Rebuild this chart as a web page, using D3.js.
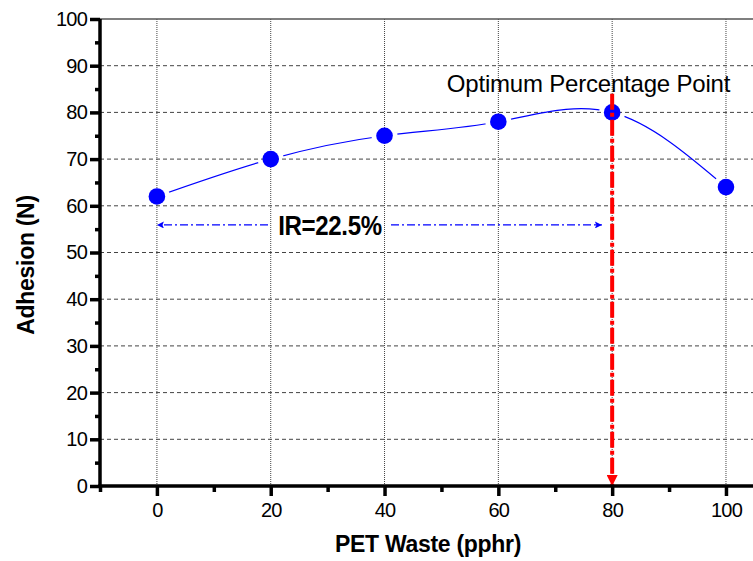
<!DOCTYPE html>
<html>
<head>
<meta charset="utf-8">
<script src="https://cdn.jsdelivr.net/npm/d3@7"></script>
<style>
  body { margin: 0; background: #fff; }
  svg { display: block; font-family: "Liberation Sans", Arial, sans-serif; }
</style>
</head>
<body>
<svg id="chart"></svg>
<script>
// data
const petWaste = [0, 20, 40, 60, 80, 100];
const adhesion = [62, 70, 75, 78, 80, 64];
const xTicks = [0, 20, 40, 60, 80, 100];
const xMinorTicks = [-10, 10, 30, 50, 70, 90];
const yTicks = [0, 10, 20, 30, 40, 50, 60, 70, 80, 90, 100];
const yMinorTicks = [5, 15, 25, 35, 45, 55, 65, 75, 85, 95];
const irLevel = 55.9;
const irRange = [0, 78.2];
const irLabel = "IR=22.5%";
const optimumX = 80;
const optimumTop = 84;
const optimumLabel = "Optimum Percentage Point";

const W = 753, H = 561;
const margin = { top: 19, right: 0, bottom: 75, left: 100 };

const svg = d3.select("#chart").attr("width", W).attr("height", H);

const x = d3.scaleLinear().domain([-10, 104.75]).range([margin.left, W - margin.right]);
const y = d3.scaleLinear().domain([0, 100]).range([H - margin.bottom, margin.top]);

const defs = svg.append("defs");

// arrow heads
defs.append("marker")
  .attr("id", "blueHead")
  .attr("viewBox", "0 0 10 10")
  .attr("refX", 10).attr("refY", 5)
  .attr("markerWidth", 11).attr("markerHeight", 7)
  .attr("markerUnits", "userSpaceOnUse")
  .attr("orient", "auto")
  .append("path").attr("d", "M0,0 L10,5 L0,10 L2,5 Z").attr("fill", "#0000ff");
defs.append("marker")
  .attr("id", "redHead")
  .attr("viewBox", "0 0 10 10")
  .attr("refX", 10).attr("refY", 5)
  .attr("markerWidth", 22).attr("markerHeight", 11)
  .attr("markerUnits", "userSpaceOnUse")
  .attr("orient", "auto")
  .append("path").attr("d", "M0,0 L10,5 L0,10 Z").attr("fill", "#ff0000");

// mask that opens a small gap in the curve around each point
const mask = defs.append("mask").attr("id", "gapMask").attr("maskUnits", "userSpaceOnUse")
  .attr("x", 0).attr("y", 0).attr("width", W).attr("height", H);
mask.append("rect").attr("width", W).attr("height", H).attr("fill", "#fff");
mask.selectAll("circle")
  .data(adhesion)
  .join("circle")
  .attr("cx", (d, i) => x(petWaste[i]))
  .attr("cy", d => y(d))
  .attr("r", 13)
  .attr("fill", "#000");

// grid
svg.append("g")
  .selectAll("line")
  .data(yTicks.filter(d => d > 0 && d < 100))
  .join("line")
  .attr("x1", margin.left).attr("x2", W)
  .attr("y1", d => y(d)).attr("y2", d => y(d))
  .attr("stroke", "#444")
  .attr("stroke-width", 1)
  .attr("stroke-dasharray", "4,3");

svg.append("g")
  .selectAll("line")
  .data(xTicks)
  .join("line")
  .attr("x1", d => x(d)).attr("x2", d => x(d))
  .attr("y1", y(100)).attr("y2", y(0))
  .attr("stroke", "#444")
  .attr("stroke-width", 1)
  .attr("stroke-dasharray", "1,1");

// top frame line
svg.append("line")
  .attr("x1", margin.left).attr("x2", W)
  .attr("y1", y(100)).attr("y2", y(100))
  .attr("stroke", "#555")
  .attr("stroke-width", 1.5);

// fitted curve
const line = d3.line()
  .x((d, i) => x(petWaste[i]))
  .y(d => y(d))
  .curve(d3.curveNatural);

svg.append("path")
  .datum(adhesion)
  .attr("d", line)
  .attr("fill", "none")
  .attr("stroke", "#0000ff")
  .attr("stroke-width", 1.2)
  .attr("mask", "url(#gapMask)");

svg.append("g")
  .selectAll("circle")
  .data(adhesion)
  .join("circle")
  .attr("cx", (d, i) => x(petWaste[i]))
  .attr("cy", d => y(d))
  .attr("r", 8.3)
  .attr("fill", "#0000ff");

// IR arrow
svg.append("text")
  .attr("transform", `translate(330, ${y(irLevel) + 10}) scale(0.86, 1)`)
  .attr("text-anchor", "middle")
  .style("font-size", "28px")
  .style("font-weight", "bold")
  .style("letter-spacing", "-0.4px")
  .text(irLabel);

svg.append("line")
  .attr("x1", 268).attr("x2", x(irRange[0]))
  .attr("y1", y(irLevel)).attr("y2", y(irLevel))
  .attr("stroke", "#0000ff").attr("stroke-width", 1.3)
  .attr("stroke-dasharray", "8,3,2,3")
  .attr("marker-end", "url(#blueHead)");

svg.append("line")
  .attr("x1", 391).attr("x2", x(irRange[1]))
  .attr("y1", y(irLevel)).attr("y2", y(irLevel))
  .attr("stroke", "#0000ff").attr("stroke-width", 1.3)
  .attr("stroke-dasharray", "8,3,2,3")
  .attr("marker-end", "url(#blueHead)");

// optimum arrow
svg.append("line")
  .attr("x1", x(optimumX)).attr("x2", x(optimumX))
  .attr("y1", y(optimumTop)).attr("y2", y(0))
  .attr("stroke", "#ff0000").attr("stroke-width", 4)
  .attr("stroke-dasharray", "16,3,4,3")
  .attr("marker-end", "url(#redHead)");

svg.append("text")
  .attr("x", 588.5)
  .attr("y", 92)
  .attr("text-anchor", "middle")
  .style("font-size", "24px")
  .style("letter-spacing", "-0.2px")
  .text(optimumLabel);

// axes
const xAxis = svg.append("g")
  .attr("transform", `translate(0, ${y(0)})`)
  .call(d3.axisBottom(x).tickValues(xTicks).tickSize(10).tickPadding(7).tickSizeOuter(0));
svg.append("g")
  .attr("transform", `translate(0, ${y(0)})`)
  .call(d3.axisBottom(x).tickValues(xMinorTicks).tickSize(6).tickFormat("").tickSizeOuter(0))
  .call(g => g.select(".domain").remove());

const yAxis = svg.append("g")
  .attr("transform", `translate(${margin.left}, 0)`)
  .call(d3.axisLeft(y).tickValues(yTicks).tickSize(10).tickPadding(3).tickSizeOuter(0));
svg.append("g")
  .attr("transform", `translate(${margin.left}, 0)`)
  .call(d3.axisLeft(y).tickValues(yMinorTicks).tickSize(5).tickFormat("").tickSizeOuter(0))
  .call(g => g.select(".domain").remove());

svg.selectAll(".domain").attr("stroke", "#000").attr("stroke-width", 3.5);
svg.selectAll(".tick line").attr("stroke", "#000").attr("stroke-width", 3.5);
svg.selectAll(".tick text")
  .attr("fill", "#000")
  .style("font-family", "'Liberation Sans', Arial, sans-serif")
  .style("font-size", "20px")
  .style("letter-spacing", "-0.8px");
xAxis.select(".domain").attr("d", `M${margin.left - 1.75},0H${W}`);
yAxis.select(".domain").attr("d", `M0,${y(100)}V${y(0) + 1.75}`);

// axis titles
svg.append("text")
  .attr("x", 428)
  .attr("y", 552)
  .attr("text-anchor", "middle")
  .style("font-size", "23px")
  .style("font-weight", "bold")
  .style("letter-spacing", "-0.3px")
  .text("PET Waste (pphr)");

svg.append("text")
  .attr("transform", `translate(34, 265) rotate(-90)`)
  .attr("text-anchor", "middle")
  .style("font-size", "23px")
  .style("font-weight", "bold")
  .style("letter-spacing", "-0.3px")
  .text("Adhesion (N)");
</script>
</body>
</html>
